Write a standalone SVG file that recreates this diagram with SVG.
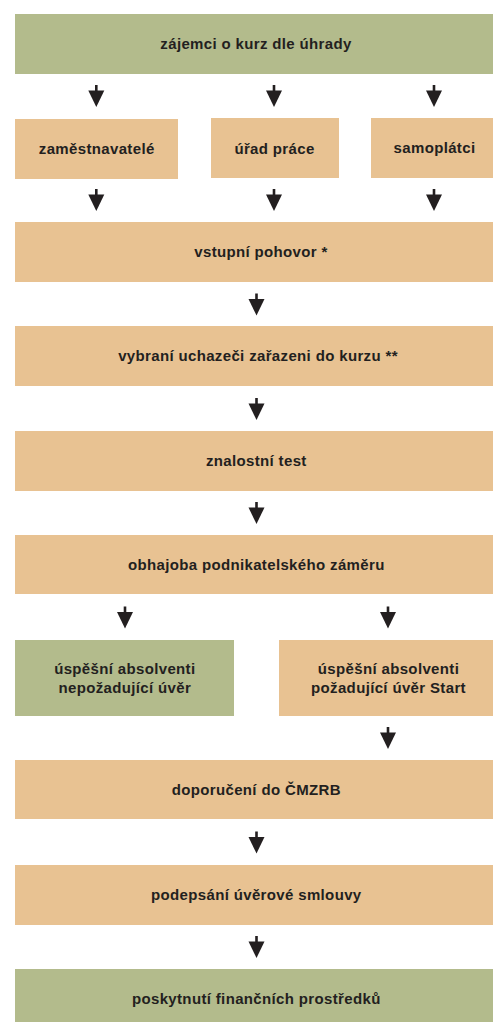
<svg xmlns="http://www.w3.org/2000/svg" width="493" height="1022" viewBox="0 0 493 1022">
<defs>
<style>
.g{fill:#b3bb8c}
.o{fill:#e8c292}
text{font-family:"Liberation Sans",Arial,Helvetica,sans-serif;font-weight:bold;font-size:15px;letter-spacing:0.35px;fill:#231f20;text-anchor:middle}
.ar{fill:#231f20}
</style>
<g id="arrow">
<rect x="-1.3" y="0" width="2.6" height="7" class="ar"/>
<polygon points="-8,5.5 8,5.5 0,22" class="ar"/>
</g>
</defs>
<rect width="493" height="1022" fill="#ffffff"/>
<g id="n1"><rect class="g" x="15" y="14" width="482" height="60"/><text x="256" y="48.5">zájemci o kurz dle úhrady</text></g>
<g id="n2"><rect class="o" x="15" y="119" width="163" height="60"/><text x="96.7" y="153.5">zaměstnavatelé</text></g>
<g id="n3"><rect class="o" x="211" y="118" width="128" height="60"/><text x="274.5" y="153.5">úřad práce</text></g>
<g id="n4"><rect class="o" x="371" y="118" width="126" height="60"/><text x="434.5" y="152.5">samoplátci</text></g>
<g id="n5"><rect class="o" x="15" y="222" width="482" height="60"/><text x="261" y="256.5">vstupní pohovor *</text></g>
<g id="n6"><rect class="o" x="15" y="326" width="482" height="60"/><text x="258" y="360.5">vybraní uchazeči zařazeni do kurzu **</text></g>
<g id="n7"><rect class="o" x="15" y="431" width="482" height="60"/><text x="256.3" y="465.5">znalostní test</text></g>
<g id="n8"><rect class="o" x="15" y="535" width="482" height="59"/><text x="256.3" y="569.5">obhajoba podnikatelského záměru</text></g>
<g id="n9"><rect class="g" x="15" y="640" width="219" height="76"/><text x="124.8" y="674"><tspan x="124.8" y="674">úspěšní absolventi</tspan><tspan x="124.8" y="693">nepožadující úvěr</tspan></text></g>
<g id="n10"><rect class="o" x="279" y="640" width="218" height="76"/><text x="388.5" y="674"><tspan x="388.5" y="674">úspěšní absolventi</tspan><tspan x="388.5" y="693">požadující úvěr Start</tspan></text></g>
<g id="n11"><rect class="o" x="15" y="760" width="482" height="59"/><text x="256.3" y="794.5">doporučení do ČMZRB</text></g>
<g id="n12"><rect class="o" x="15" y="865" width="482" height="60"/><text x="256.3" y="899.5">podepsání úvěrové smlouvy</text></g>
<g id="n13"><rect class="g" x="15" y="969" width="482" height="60"/><text x="256.3" y="1004">poskytnutí finančních prostředků</text></g>
<g id="connectors">
<use href="#arrow" x="96.3" y="85"/>
<use href="#arrow" x="274" y="85"/>
<use href="#arrow" x="434" y="85"/>
<use href="#arrow" x="96.3" y="189"/>
<use href="#arrow" x="274" y="189"/>
<use href="#arrow" x="434" y="189"/>
<use href="#arrow" x="256.5" y="293.5"/>
<use href="#arrow" x="256.5" y="398"/>
<use href="#arrow" x="256.5" y="502"/>
<use href="#arrow" x="125" y="606.5"/>
<use href="#arrow" x="388" y="606.5"/>
<use href="#arrow" x="388" y="727"/>
<use href="#arrow" x="256.5" y="831.5"/>
<use href="#arrow" x="256.5" y="936"/>
</g>
</svg>
